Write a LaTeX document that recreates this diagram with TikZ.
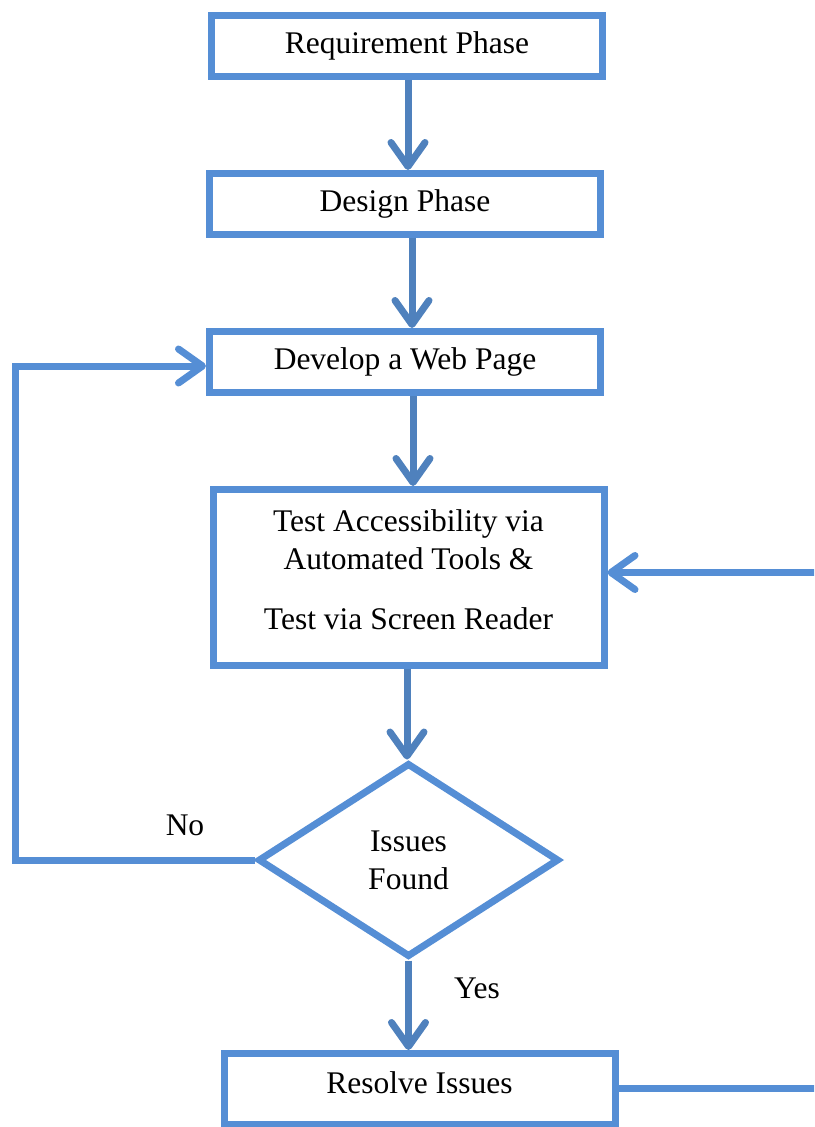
\documentclass[tikz,border=0pt]{standalone}
\usepackage{fontspec}
\setmainfont{Liberation Serif}
\usetikzlibrary{arrows.meta,shapes.geometric}
\definecolor{boxblue}{HTML}{558ED5}
\definecolor{arrblue}{HTML}{4F81BD}
\begin{document}
\begin{tikzpicture}[x=1pt,y=-1pt,
  every node/.style={font=\fontsize{31.5}{38}\selectfont},
  stepbox/.style={draw=boxblue,line width=7pt,rectangle,fill=white,
    minimum width=391pt,minimum height=61pt,inner sep=0pt},
  decision/.style={draw=boxblue,line width=7pt,diamond,fill=white,
    minimum width=301pt,minimum height=194pt,inner sep=0pt,align=center},
  flow/.style={line width=7pt,draw=arrblue,
    -{Straight Barb[length=24pt,width=34pt,round]}},
  loop/.style={line width=7pt,draw=boxblue,line join=miter,
    -{Straight Barb[length=24pt,width=34pt,round]}},
  tag/.style={inner sep=0pt}]
\useasboundingbox (0,0) rectangle (814,1127);
\clip (0,0) rectangle (814,1127);

% process boxes
\node[stepbox] (req) at (407,45.5) {Requirement Phase};
\node[stepbox] (des) at (405,204) {Design Phase};
\node[stepbox] (dev) at (405,362) {Develop a Web Page};
\node[stepbox,minimum height=176pt,align=center] (test) at (408.5,577.5)
  {\raisebox{5pt}[\height][\depth]{\begin{tabular}{@{}c@{}}Test Accessibility via\\Automated Tools \&\\[22pt]Test via Screen Reader\end{tabular}}};
\node[decision] (dia) at (408.5,860) {Issues\\Found};
\node[stepbox,minimum height=71pt] (res) at (419.5,1089)
  {\raisebox{6pt}[\height][\depth]{Resolve Issues}};

% main flow, each arrow in its own column
\draw[flow] (req.south) ++(1,0) coordinate (c1) -- (c1 |- des.north);
\draw[flow] (des.south) ++(7,0) coordinate (c2) -- (c2 |- dev.north);
\draw[flow] (dev.south) ++(8,0) coordinate (c3) -- (c3 |- test.north);
\draw[flow] (test.south) ++(-1.5,0) coordinate (c4) -- (c4 |- dia.north);
\draw[flow] (dia.south) -- (dia.south |- res.north);

% "No" loop back to development
\coordinate (nocorner) at (15,860);
\draw[loop] (dia.west) -| (nocorner) |- ([yshift=-4pt]dev.west);

% feedback from resolution back to testing
\coordinate (fbcorner) at (840,1088);
\draw[loop] (res.east |- fbcorner) -- (fbcorner) |- ([yshift=5pt]test.east);

% branch labels
\node[tag] (no) at (185,825) {No};
\node[tag] (yes) at (477,988) {Yes};
\end{tikzpicture}
\end{document}
